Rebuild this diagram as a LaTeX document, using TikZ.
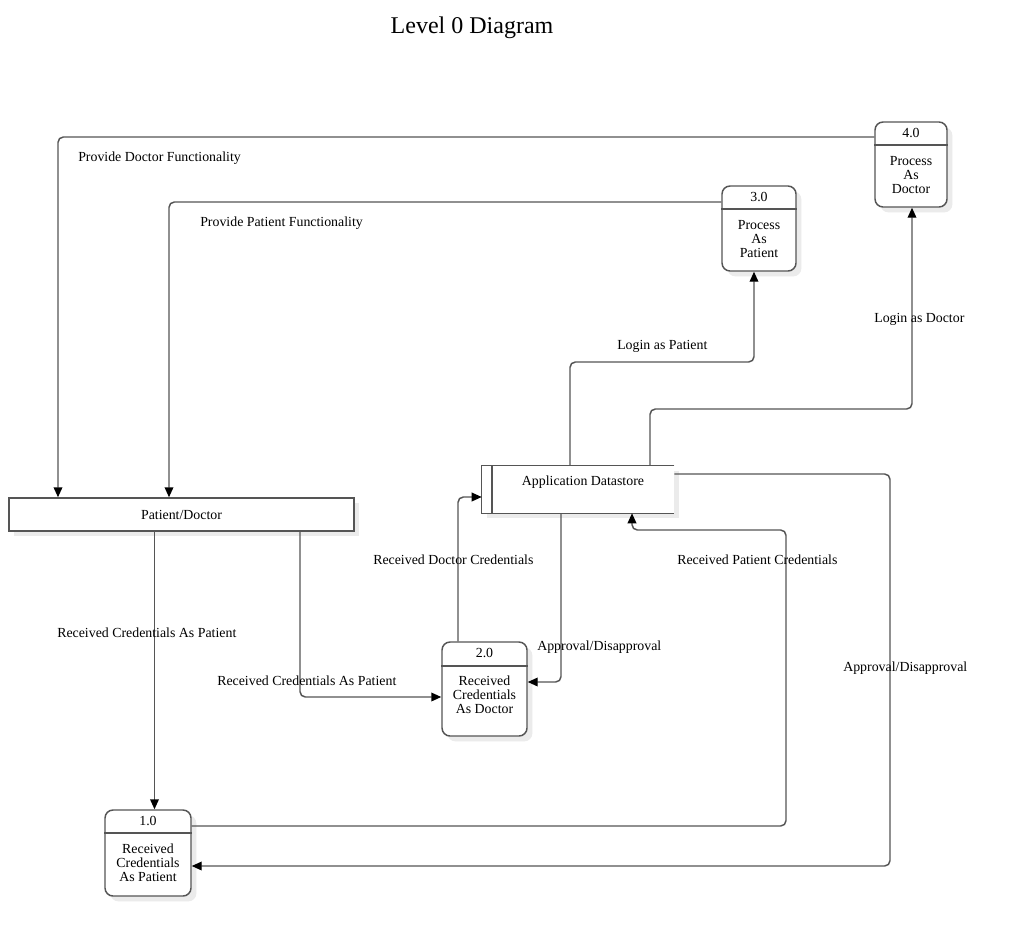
\documentclass[tikz,border=0pt]{standalone}
\usepackage{fontspec}
\setmainfont{Liberation Serif}
\usetikzlibrary{arrows.meta,shadows}
\newdimen\pxu \pxu=0.75pt
\definecolor{lc}{HTML}{555555}
\begin{document}
\begin{tikzpicture}[x=0.75pt,y=-0.75pt,
  line/.style={draw=lc, line width=1.1pt},
  flow/.style={line, rounded corners=4pt, -{Triangle[length=7.5pt,width=6.5pt,color=black]}},
  shad/.style={drop shadow={shadow xshift=4pt, shadow yshift=-4pt, fill=black!8, opacity=1}},
  proc/.style={draw=lc, line width=1.1pt, rounded corners=6pt, fill=white, shad, inner sep=0pt},
  txt/.style={inner sep=0pt, align=center, font=\fontsize{10.4}{10.5}\selectfont},
  lbl/.style={anchor=west, inner sep=0pt, font=\fontsize{10.4}{12.5}\selectfont}]
\useasboundingbox (0,0) rectangle (1020,935);
\fill[white] (0,0) rectangle (1020,935);

\node[inner sep=0pt, font=\fontsize{18}{20}\selectfont] (title) at (472,27.5) {Level 0 Diagram};

% processes
\node[proc, minimum width=72\pxu, minimum height=85\pxu] (p4) at (911,164.5) {};
\draw[line] (p4.west |- 0,145) -- (p4.east |- 0,145);
\node[txt] (p4n) at (911,132.5) {4.0};
\node[txt] (p4t) at (911,175) {Process\\As\\Doctor};

\node[proc, minimum width=74\pxu, minimum height=85\pxu] (p3) at (759,228.5) {};
\draw[line] (p3.west |- 0,209) -- (p3.east |- 0,209);
\node[txt] (p3n) at (759,196.5) {3.0};
\node[txt] (p3t) at (759,239) {Process\\As\\Patient};

\node[proc, minimum width=85\pxu, minimum height=94\pxu] (p2) at (484.5,689) {};
\draw[line] (p2.west |- 0,666) -- (p2.east |- 0,666);
\node[txt] (p2n) at (484.5,653) {2.0};
\node[txt] (p2t) at (484.5,695) {Received\\Credentials\\As Doctor};

\node[proc, minimum width=86\pxu, minimum height=86\pxu] (p1) at (148,853) {};
\draw[line] (p1.west |- 0,833) -- (p1.east |- 0,833);
\node[txt] (p1n) at (148,820.5) {1.0};
\node[txt] (p1t) at (148,863) {Received\\Credentials\\As Patient};

% external entity
\node[draw=lc, line width=1.1pt, fill=white, shad, minimum width=345\pxu, minimum height=33\pxu, inner sep=0pt, font=\fontsize{10.4}{12.5}\selectfont] (pd) at (181.5,514.5) {Patient/Doctor};

% datastore
\node[fill=white, shad, minimum width=192\pxu, minimum height=47\pxu, inner sep=0pt] (ds) at (578,489.5) {};
\draw[line] (ds.north east) -- (ds.north west) -- (ds.south west) -- (ds.south east);
\draw[line] (ds.north -| 492,0) -- (ds.south -| 492,0);
\node[txt] (dst) at (583,482) {Application Datastore};

% flows
\draw[flow] (p4.west |- 0,137) -| (pd.north -| 58,0);
\draw[flow] (p3.west |- 0,202) -| (pd.north -| 169,0);
\draw[flow] (ds.north -| 570,0) |- (754,362) -- (p3.south -| 754,0);
\draw[flow] (ds.north -| 650,0) |- (912,409) -- (p4.south -| 912,0);
\draw[flow] (pd.south -| 154.5,0) -- (p1.north -| 154.5,0);
\draw[flow] (pd.south -| 300,0) |- (p2.west |- 0,697);
\draw[flow] (p2.north -| 458,0) |- (ds.west |- 0,497);
\draw[flow] (ds.south -| 561,0) |- (p2.east |- 0,682);
\draw[flow] (p1.east |- 0,826) -| (786,530) -| (ds.south -| 632,0);
\draw[flow] (ds.east |- 0,474) -| (890,866) -- (p1.east |- 0,866);

% labels
\node[lbl] (l1) at (78,158.5) {Provide Doctor Functionality};
\node[lbl] (l2) at (200,223.5) {Provide Patient Functionality};
\node[lbl] (l3) at (617,346.5) {Login as Patient};
\node[lbl] (l4) at (874,319.5) {Login as Doctor};
\node[lbl] (l5) at (57,632.5) {Received Credentials As Patient};
\node[lbl] (l6) at (217,680.5) {Received Credentials As Patient};
\node[lbl] (l7) at (373,559.5) {Received Doctor Credentials};
\node[lbl] (l8) at (537,647.5) {Approval/Disapproval};
\node[lbl] (l9) at (677,559.5) {Received Patient Credentials};
\node[lbl] (l10) at (843,668.5) {Approval/Disapproval};
\end{tikzpicture}
\end{document}
